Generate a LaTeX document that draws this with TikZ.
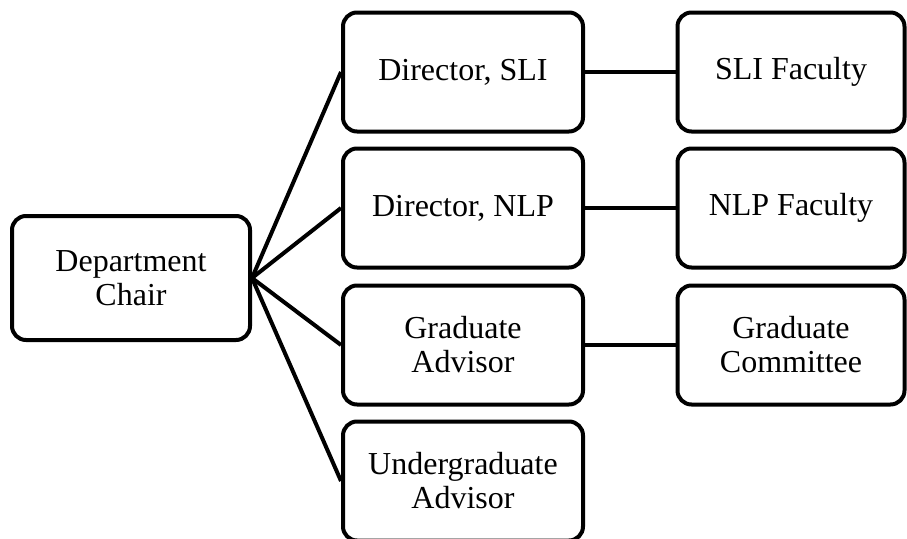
\documentclass[tikz,border=0pt]{standalone}
\usepackage{fontspec}
\setmainfont{Liberation Serif}
\begin{document}
\begin{tikzpicture}[x = 1pt, y = -1pt,
		box/.style = {draw, line width = 4pt, rounded corners = 14pt, align = center, inner sep = 0pt,
			minimum height = 119pt, font = \fontsize{32}{34}\selectfont},
		link/.style = {line width = 4pt}]
				%	frame setup
				\useasboundingbox (0, 0) rectangle (907, 538);
				
				\def\xa{463}
				\def\xb{791}
				
				%	boxes
				\node[box, minimum width = 238pt, minimum height = 124pt] (chair) at (131, 278) {Department\\Chair};
				\node[box, minimum width = 240pt] (sli) at (\xa, 72) {Director, SLI};
				\node[box, minimum width = 240pt] (nlp) at (\xa, 208) {Director, NLP};
				\node[box, minimum width = 240pt] (grad) at (\xa, 345) {Graduate\\Advisor};
				\node[box, minimum width = 240pt] (ugrad) at (\xa, 481) {Undergraduate\\Advisor};
				\node[box, minimum width = 227pt] (slifac) at (\xb, 72) {SLI Faculty};
				\node[box, minimum width = 227pt] (nlpfac) at (\xb, 208) {NLP Faculty};
				\node[box, minimum width = 227pt] (gradcom) at (\xb, 345) {Graduate\\Committee};
				
				%	lines
				\foreach \n in {sli, nlp, grad, ugrad}
					\draw[link] (chair.east) -- (\n.west);
				\draw[link] (sli) -- (slifac);
				\draw[link] (nlp) -- (nlpfac);
				\draw[link] (grad) -- (gradcom);
				\end{tikzpicture}
\end{document}
